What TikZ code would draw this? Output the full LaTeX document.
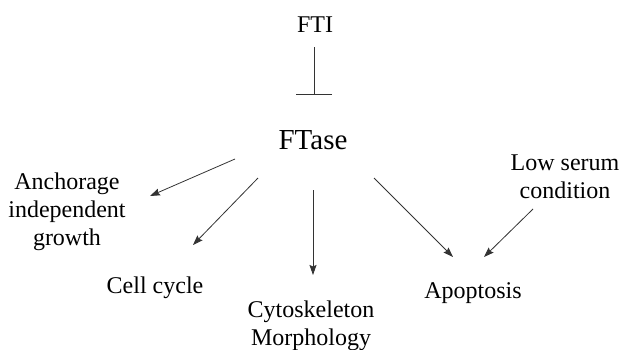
\documentclass[tikz,border=0pt]{standalone}
\usepackage{fontspec}
\IfFontExistsTF{LiberationSerif-Regular.ttf}
  {\setmainfont{LiberationSerif-Regular.ttf}}
  {\setmainfont{Liberation Serif}}
\usetikzlibrary{arrows.meta}
\begin{document}
\begin{tikzpicture}[x=1pt,y=-1pt,
  lbl/.style={anchor=base,inner sep=0pt,font=\rmfamily\fontsize{24}{28}\selectfont},
  arr/.style={draw=black!80,line width=0.8pt,-{Stealth[length=10pt,width=7pt,inset=1.5pt]}},
  inh/.style={draw=black!80,line width=0.8pt,-{Bar[width=36pt,line width=0.8pt]}}]
\useasboundingbox (0,0) rectangle (621,349);
\node[lbl] (fti) at (315,32) {FTI};
\node[lbl,font=\rmfamily\fontsize{29}{33}\selectfont] (ftase) at (313,149) {FTase};
\node[lbl] (anch) at (67,189) {\begin{tabular}[t]{@{}c@{}}Anchorage\\independent\\growth\end{tabular}};
\node[lbl] (cell) at (155,293) {Cell cycle};
\node[lbl] (cyto) at (311,317) {\begin{tabular}[t]{@{}c@{}}Cytoskeleton\\Morphology\end{tabular}};
\node[lbl] (apo) at (473,298) {Apoptosis};
\node[lbl] (low) at (565,170) {\begin{tabular}[t]{@{}c@{}}Low serum\\condition\end{tabular}};
\draw[inh] ([shift={(-1,15)}]fti.base) -- ([shift={(1,-54)}]ftase.base);
\draw[arr] ([shift={(-78,10)}]ftase.base) -- ([shift={(83,7)}]anch.base);
\draw[arr] ([shift={(-55,29)}]ftase.base) -- ([shift={(38,-48)}]cell.base);
\draw[arr] ([shift={(0,41)}]ftase.base) -- ([shift={(2,-42)}]cyto.base);
\draw[arr] ([shift={(61,29)}]ftase.base) -- ([shift={(-20,-41)}]apo.base);
\draw[arr] ([shift={(-32,39)}]low.base) -- ([shift={(11,-41)}]apo.base);
\end{tikzpicture}
\end{document}
